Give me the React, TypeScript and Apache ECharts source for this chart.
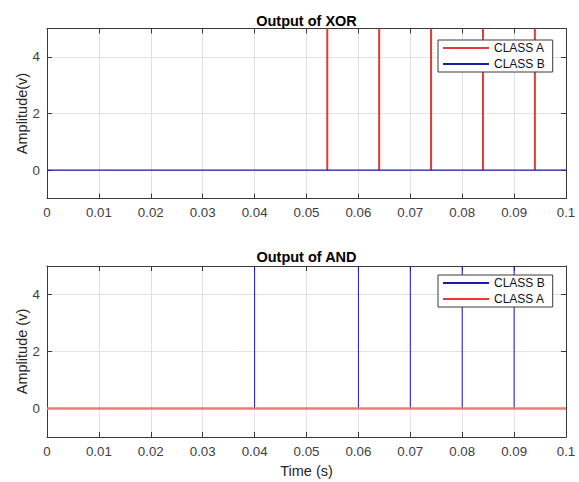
import React, { useEffect, useRef } from "react";
import * as echarts from "echarts";

// ---- data ----
const xorClassASpikes = [0.054, 0.064, 0.074, 0.084, 0.094]; // CLASS A pulses (XOR)
const xorClassBLevel = [[0, 0], [0.1, 0]]; // CLASS B stays at 0 (XOR)
const andClassBSpikes = [0.04, 0.06, 0.07, 0.08, 0.09]; // CLASS B pulses (AND)
const andClassALevel = [[0, 0], [0.1, 0]]; // CLASS A stays at 0 (AND)
const spikeHigh = 5;
const spikeLow = 0;
const yTicks = [0, 2, 4];
const timeRange = [0, 0.1];
const ampRange = [-1, 5];

// vertical pulse segments (baseline is covered by the other class's line at 0)
function pulses(times: number[]): any[] {
  const out: any[] = [];
  times.forEach((t) => {
    out.push([t, spikeLow], [t, spikeHigh], [t, "-"]);
  });
  return out;
}

const RED = "#e23a3a";
const RED_LIGHT = "#f07a7a";
const BLUE = "#1c1ca8";
const AXIS = "#3a3a3a";
const GRID = "#e2e2e2";
const FONT = "Liberation Sans, Arial, sans-serif";

export default function App() {
  const ref = useRef<HTMLDivElement>(null);
  useEffect(() => {
    if (!ref.current) return;
    const chart = echarts.init(ref.current, undefined, { renderer: "svg" });

    const grids = [
      { left: 47, top: 28.5, width: 519, height: 170 },
      { left: 47, top: 266, width: 519, height: 171 },
    ];

    const xBottom = (gi: number, name?: string) => ({
      type: "value",
      gridIndex: gi,
      position: "bottom",
      min: timeRange[0],
      max: timeRange[1],
      interval: 0.01,
      name: name || "",
      nameLocation: "middle",
      nameGap: 26,
      nameMoveOverlap: false,
      nameTextStyle: { fontSize: 14.5, color: "#262626", fontFamily: FONT },
      axisLine: { show: true, onZero: false, lineStyle: { color: AXIS, width: 1 } },
      axisTick: { show: true, inside: true, length: 5, lineStyle: { color: AXIS } },
      axisLabel: {
        show: true,
        margin: 7.5,
        fontSize: 13.3,
        color: "#404040",
        fontFamily: FONT,
        formatter: (v: number) => String(Number(v.toFixed(2))),
      },
      splitLine: { show: true, lineStyle: { color: GRID, width: 1 } },
    });
    const xTop = (gi: number) => ({
      type: "value",
      gridIndex: gi,
      position: "top",
      min: timeRange[0],
      max: timeRange[1],
      interval: 0.01,
      axisLine: { show: true, onZero: false, lineStyle: { color: AXIS, width: 1 } },
      axisTick: { show: true, inside: true, length: 5, lineStyle: { color: AXIS } },
      axisLabel: { show: false },
      splitLine: { show: false },
    });
    const yLeft = (gi: number, name: string) => ({
      type: "value",
      gridIndex: gi,
      position: "left",
      min: ampRange[0],
      max: ampRange[1],
      interval: 1,
      name,
      nameLocation: "middle",
      nameGap: 18,
      nameMoveOverlap: false,
      nameTextStyle: { fontSize: 14.5, color: "#262626", fontFamily: FONT },
      axisLine: { show: true, onZero: false, lineStyle: { color: AXIS, width: 1 } },
      axisTick: { show: true, inside: true, length: 5, customValues: yTicks, lineStyle: { color: AXIS } },
      axisLabel: { show: true, margin: 7, fontSize: 13.3, color: "#404040", fontFamily: FONT, customValues: yTicks },
      splitLine: { show: true, lineStyle: { color: GRID, width: 1 } },
    });
    const yRight = (gi: number) => ({
      type: "value",
      gridIndex: gi,
      position: "right",
      min: ampRange[0],
      max: ampRange[1],
      interval: 1,
      axisLine: { show: true, onZero: false, lineStyle: { color: AXIS, width: 1 } },
      axisTick: { show: true, inside: true, length: 5, customValues: yTicks, lineStyle: { color: AXIS } },
      axisLabel: { show: false },
      splitLine: { show: false },
    });

    const legendBase = {
      orient: "vertical",
      left: 438,
      borderColor: AXIS,
      borderWidth: 1,
      borderRadius: 0,
      backgroundColor: "#ffffff",
      padding: [2, 8, 2, 4],
      itemWidth: 46,
      itemHeight: 13,
      itemGap: 4,
      itemStyle: { opacity: 0 },
      textStyle: { fontSize: 12, color: "#111", fontFamily: FONT },
    };

    const titleStyle = { fontSize: 14.5, fontWeight: "bold", color: "#000", fontFamily: FONT };

    chart.setOption({
      animation: false,
      backgroundColor: "#ffffff",
      title: [
        { text: "Output of XOR", left: 306.5, top: 13, textAlign: "center", padding: 0, textStyle: titleStyle },
        { text: "Output of AND", left: 306.5, top: 249, textAlign: "center", padding: 0, textStyle: titleStyle },
      ],
      legend: [
        { ...legendBase, top: 40, data: ["CLASS A", "CLASS B"] },
        { ...legendBase, top: 275, data: ["CLASS B", "CLASS A"] },
      ],
      grid: grids,
      xAxis: [xBottom(0), xTop(0), xBottom(1, "Time (s)"), xTop(1)],
      yAxis: [yLeft(0, "Amplitude(v)"), yRight(0), yLeft(1, "Amplitude (v)"), yRight(1)],
      series: [
        {
          name: "CLASS A",
          type: "line",
          xAxisIndex: 0,
          yAxisIndex: 0,
          data: pulses(xorClassASpikes),
          connectNulls: false,
          symbol: "none",
          lineStyle: { color: RED, width: 2 },
          itemStyle: { color: RED },
        },
        {
          name: "CLASS B",
          type: "line",
          xAxisIndex: 0,
          yAxisIndex: 0,
          data: xorClassBLevel,
          symbol: "none",
          lineStyle: { color: BLUE, width: 1.2 },
          itemStyle: { color: BLUE },
        },
        {
          name: "CLASS B",
          type: "line",
          xAxisIndex: 2,
          yAxisIndex: 2,
          data: pulses(andClassBSpikes),
          connectNulls: false,
          symbol: "none",
          lineStyle: { color: BLUE, width: 1 },
          itemStyle: { color: BLUE },
        },
        {
          name: "CLASS A",
          type: "line",
          xAxisIndex: 2,
          yAxisIndex: 2,
          data: andClassALevel,
          symbol: "none",
          lineStyle: { color: RED_LIGHT, width: 2.5 },
          itemStyle: { color: RED_LIGHT },
        },
      ],
    });
    return () => chart.dispose();
  }, []);
  return (
    <div
      ref={ref}
      style={{ position: "fixed", left: 0, top: 0, width: 579, height: 482, background: "#fff" }}
    />
  );
}
